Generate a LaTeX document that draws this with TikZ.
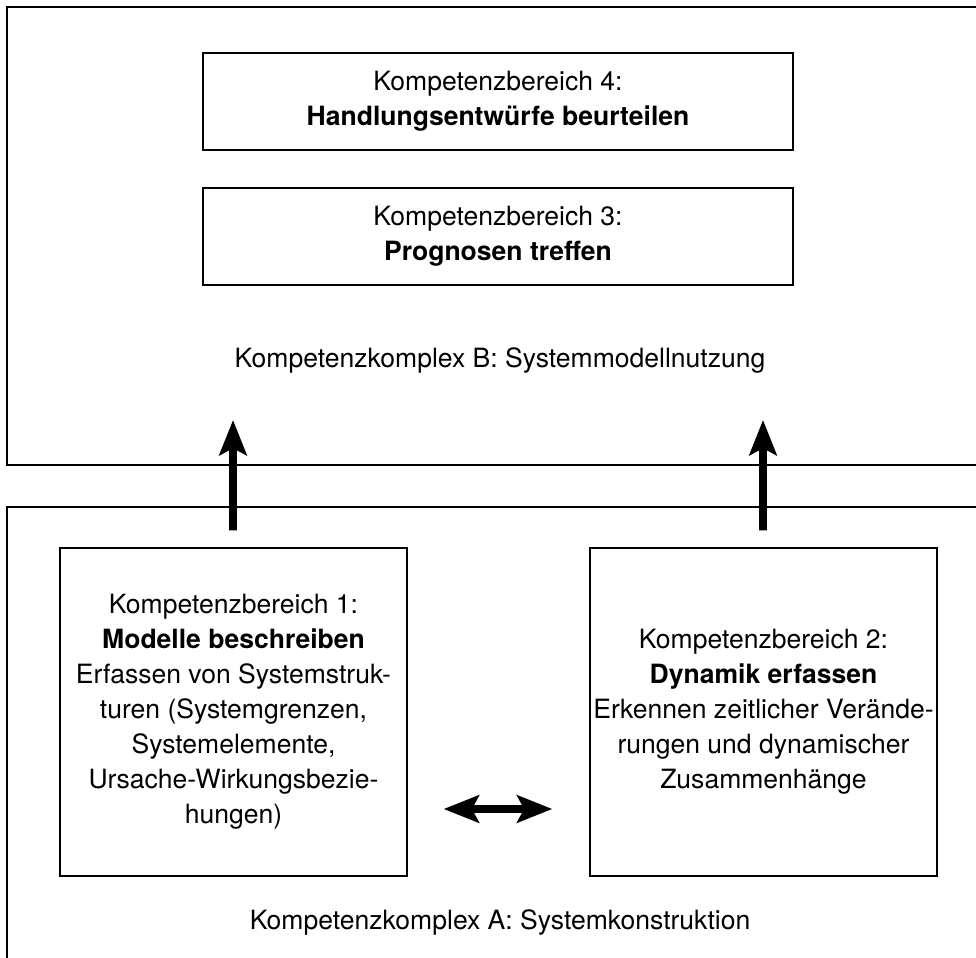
\documentclass[tikz,border=0pt]{standalone}
\usepackage{fontspec}
\setmainfont{TeX Gyre Heros}
\usetikzlibrary{arrows.meta}
\begin{document}
\begin{tikzpicture}[
    txt/.style={font=\fontsize{15.1}{19.9}\selectfont, align=center},
    bereich/.style={txt, draw, line width=0.8pt, inner sep=0pt},
    pfeil/.style={line width=4.5pt, -{Stealth[length=20pt, width=15.5pt, inset=4pt]}},
    doppelpfeil/.style={line width=4.5pt, {Stealth[length=20pt, width=15.5pt, inset=4pt]}-{Stealth[length=20pt, width=15.5pt, inset=4pt]}}
]
    \useasboundingbox (0,0) rectangle (19.52,19.14);
    \draw[line width=0.8pt] (19.6,19.0) -- (0.14,19.0) -- (0.14,9.84) -- (19.6,9.84);
    \draw[line width=0.8pt] (19.6,9.0) -- (0.14,9.0) -- (0.14,-0.1);
    \node[bereich, minimum width=11.8cm, minimum height=1.94cm] (kb4) at (9.96,17.11) {Kompetenzbereich 4:\\ \textbf{Handlungsentwürfe beurteilen}};
    \node[bereich, minimum width=11.8cm, minimum height=1.94cm] (kb3) at (9.96,14.41) {Kompetenzbereich 3:\\ \textbf{Prognosen treffen}};
    \node[txt] (kkb) at (10.0,11.94) {Kompetenzkomplex B: Systemmodellnutzung};
    \node[bereich, minimum width=6.94cm, minimum height=6.56cm] (kb1) at (4.67,4.9) {Kompetenzbereich 1:\\ \textbf{Modelle beschreiben}\\ Erfassen von Systemstruk-\\ turen (Systemgrenzen,\\ Systemelemente,\\ Ursache-Wirkungsbezie-\\ hungen)};
    \node[bereich, minimum width=6.94cm, minimum height=6.56cm] (kb2) at (15.27,4.9) {Kompetenzbereich 2:\\ \textbf{Dynamik erfassen}\\ Erkennen zeitlicher Verände-\\ rungen und dynamischer\\ Zusammenhänge};
    \node[txt] (kka) at (10.0,0.7) {Kompetenzkomplex A: Systemkonstruktion};
    \coordinate (z1) at (4.66,10.74);
    \coordinate (z2) at (15.26,10.74);
    \draw[pfeil] ([xshift=-0.01cm, yshift=0.34cm]kb1.north) -- (z1);
    \draw[pfeil] ([xshift=-0.01cm, yshift=0.34cm]kb2.north) -- (z2);
    \draw[doppelpfeil, shorten <=0.72cm, shorten >=0.74cm] (kb1.east |- 0,2.96) -- (kb2.west |- 0,2.96);
\end{tikzpicture}
\end{document}
